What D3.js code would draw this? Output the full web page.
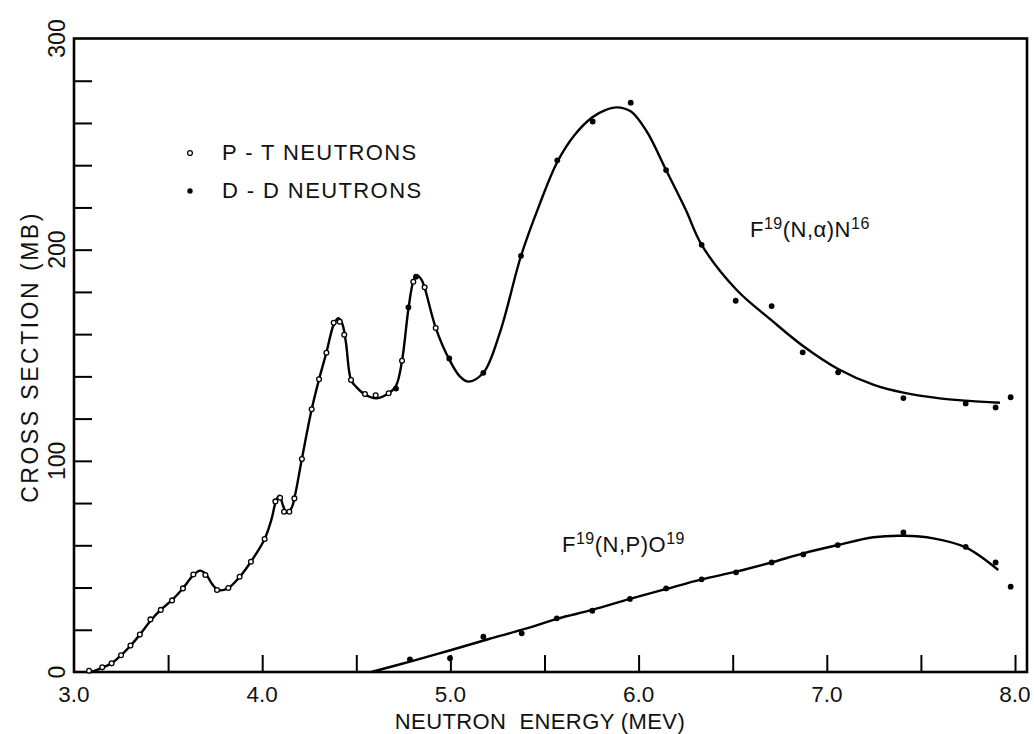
<!DOCTYPE html>
<html>
<head>
<meta charset="utf-8">
<script src="https://cdn.jsdelivr.net/npm/d3@7"></script>
<style>
  body { margin: 0; background: #fff; }
  text { font-family: "Liberation Sans", Arial, sans-serif; fill: #111; }
</style>
</head>
<body>
<svg id="chart" width="1034" height="734"></svg>
<script>
// open circles, p-t neutrons (MeV, mb)
const ptPoints = [
  [3.08, 0.6], [3.15, 2.2], [3.20, 4.1], [3.25, 7.9], [3.30, 12.5], [3.35, 17.7],
  [3.406, 24.9], [3.461, 29.4], [3.521, 33.9], [3.579, 39.6], [3.634, 46.2],
  [3.698, 45.9], [3.76, 38.8], [3.82, 39.8], [3.88, 45.1], [3.94, 52.2],
  [4.013, 63.0], [4.07, 80.8], [4.095, 82.5], [4.116, 75.9], [4.144, 75.9],
  [4.171, 82.2], [4.211, 100.9], [4.263, 124.4], [4.302, 138.6], [4.341, 151.2],
  [4.38, 165.4], [4.412, 165.9], [4.436, 159.7], [4.472, 138.3], [4.546, 131.6],
  [4.603, 131.0], [4.672, 132.0], [4.743, 147.4], [4.803, 184.8], [4.863, 182.2],
  [4.922, 162.9]
]

// filled dots, d-d neutrons, F19(n,alpha)N16
const ddAlphaPoints = [
  [4.711, 134.2], [4.777, 172.7], [4.817, 187.2], [4.994, 148.5], [5.175, 141.7],
  [5.375, 197.1], [5.568, 242.3], [5.756, 260.7], [5.958, 269.6], [6.146, 237.7],
  [6.335, 202.3], [6.516, 175.8], [6.707, 173.3], [6.872, 151.4], [7.06, 141.9],
  [7.407, 129.7], [7.738, 127.2], [7.897, 125.3], [7.977, 130.1]
]

// filled dots, d-d neutrons, F19(n,p)O19
const ddProtonPoints = [
  [4.785, 6.0], [4.998, 6.5], [5.175, 16.7], [5.379, 18.3], [5.565, 25.4],
  [5.754, 29.0], [5.954, 34.6], [6.146, 39.6], [6.335, 43.9], [6.518, 47.2],
  [6.707, 51.9], [6.875, 55.7], [7.058, 60.1], [7.407, 66.1], [7.738, 59.3],
  [7.897, 51.9], [7.977, 40.4]
]

// hand drawn curves
const alphaCurve = [
  [3.09, 0], [3.15, 2], [3.20, 4.2], [3.25, 7.9], [3.30, 12.4], [3.35, 17.7],
  [3.41, 24.6], [3.46, 29.4], [3.52, 34], [3.58, 39.8], [3.635, 46], [3.67, 48],
  [3.70, 46.5], [3.735, 41.5], [3.767, 38.8], [3.82, 39.8], [3.88, 45], [3.94, 52.2],
  [4.013, 63], [4.05, 72.5], [4.075, 81.5], [4.092, 83.5], [4.11, 79], [4.13, 75.4],
  [4.155, 77.5], [4.175, 84], [4.211, 101], [4.263, 124.4], [4.302, 138.6],
  [4.341, 151.2], [4.38, 164.5], [4.404, 167.5], [4.425, 165], [4.445, 156],
  [4.472, 138.3], [4.502, 134.8], [4.546, 131.4], [4.608, 129.6], [4.672, 132],
  [4.711, 135.5], [4.743, 147.4], [4.777, 172], [4.803, 185], [4.822, 187.8],
  [4.845, 186], [4.863, 182], [4.922, 163], [4.994, 148], [5.05, 140], [5.095, 137.5],
  [5.175, 141.7], [5.264, 161], [5.375, 197], [5.472, 221], [5.568, 241.5],
  [5.662, 254.5], [5.756, 262.8], [5.82, 266], [5.883, 267.4], [5.958, 265.5],
  [6.043, 256], [6.146, 237.7], [6.25, 219], [6.335, 202.3], [6.52, 181],
  [6.707, 166.5], [6.872, 154.5], [7.06, 143.5], [7.25, 136], [7.407, 132.3],
  [7.6, 129.6], [7.738, 128.5], [7.92, 127.5]
]

const protonCurve = [
  [4.58, 0], [4.80, 5.3], [5.00, 10.3], [5.20, 15.5], [5.40, 20.5], [5.57, 25.3],
  [5.754, 29.4], [5.954, 34.6], [6.146, 39.3], [6.335, 43.9], [6.518, 47.5],
  [6.707, 51.9], [6.875, 56.2], [7.058, 60.1], [7.247, 63.8], [7.407, 64.5],
  [7.566, 63.3], [7.738, 59.0], [7.911, 48.3]
]

const xTickValues = [3.5, 4.0, 4.5, 5.0, 5.5, 6.0, 6.5, 7.0, 7.5, 8.0]
const xTickLabels = ["3.0", "4.0", "5.0", "6.0", "7.0", "8.0"]
const yTickValues = d3.range(20, 300, 20)
const yTickLabels = ["0", "100", "200", "300"]

const svg = d3.select("#chart")

const x = d3.scaleLinear().domain([3, 8]).range([74, 1015])
const y = d3.scaleLinear().domain([0, 300]).range([672, 38.5])
const xRight = 1027

// frame
svg.append("rect")
  .attr("x", x(3)).attr("y", y(300))
  .attr("width", xRight - x(3)).attr("height", y(0) - y(300))
  .attr("fill", "none").attr("stroke", "#000").attr("stroke-width", 2.6)

// ticks pointing inward
svg.append("g")
  .attr("transform", `translate(0, ${y(0)})`)
  .call(d3.axisTop(x).tickValues(xTickValues).tickSize(17).tickFormat(""))
  .call(g => g.select(".domain").remove())
  .call(g => g.selectAll("line").attr("stroke", "#000").attr("stroke-width", 2))

svg.append("g")
  .attr("transform", `translate(${x(3)}, 0)`)
  .call(d3.axisRight(y).tickValues(yTickValues).tickSize(18).tickFormat(""))
  .call(g => g.select(".domain").remove())
  .call(g => g.selectAll("line").attr("stroke", "#000").attr("stroke-width", 2))

// tick labels
svg.append("g")
  .selectAll("text")
  .data(xTickLabels).enter()
  .append("text")
  .attr("x", d => x(+d))
  .attr("y", 702)
  .attr("text-anchor", "middle")
  .style("font-size", "22.5px")
  .text(d => d)

svg.append("g")
  .selectAll("text")
  .data(yTickLabels).enter()
  .append("text")
  .attr("transform", d => `translate(65, ${y(+d)}) rotate(-90)`)
  .attr("text-anchor", "middle")
  .style("font-size", "23px")
  .text(d => d)

// axis titles
svg.append("text")
  .attr("x", 540).attr("y", 729)
  .attr("text-anchor", "middle")
  .style("font-size", "22px")
  .style("letter-spacing", "0.4px")
  .style("white-space", "pre")
  .text("NEUTRON  ENERGY (MEV)")

svg.append("text")
  .attr("transform", "translate(38, 357) rotate(-90)")
  .attr("text-anchor", "middle")
  .style("font-size", "23px")
  .style("letter-spacing", "2.5px")
  .text("CROSS SECTION (MB)")

// curves
const line = d3.line()
  .x(d => x(d[0]))
  .y(d => y(d[1]))
  .curve(d3.curveCatmullRom.alpha(0.5))

svg.selectAll("path.curve")
  .data([alphaCurve, protonCurve]).enter()
  .append("path")
  .attr("class", "curve")
  .attr("d", line)
  .attr("fill", "none")
  .attr("stroke", "#000")
  .attr("stroke-width", 2.4)

// data points
svg.append("g")
  .selectAll("circle")
  .data(ptPoints).enter()
  .append("circle")
  .attr("cx", d => x(d[0]))
  .attr("cy", d => y(d[1]))
  .attr("r", 2.4)
  .attr("fill", "#fff")
  .attr("stroke", "#000")
  .attr("stroke-width", 1.3)

svg.append("g")
  .selectAll("circle")
  .data(ddAlphaPoints.concat(ddProtonPoints)).enter()
  .append("circle")
  .attr("cx", d => x(d[0]))
  .attr("cy", d => y(d[1]))
  .attr("r", 2.9)
  .attr("fill", "#000")

// legend
const legend = [
  {label: "P - T NEUTRONS", open: true, y: 153},
  {label: "D - D NEUTRONS", open: false, y: 191}
]
const items = svg.append("g").selectAll("g")
  .data(legend).enter()
  .append("g")
  .attr("transform", d => `translate(190, ${d.y})`)
items.append("circle")
  .attr("r", d => d.open ? 2.4 : 2.7)
  .attr("fill", d => d.open ? "#fff" : "#000")
  .attr("stroke", "#000")
  .attr("stroke-width", d => d.open ? 1.3 : 0)
items.append("text")
  .attr("x", 32).attr("y", 7)
  .style("font-size", "22px")
  .style("letter-spacing", "1.4px")
  .style("white-space", "pre")
  .text(d => d.label)

// reaction labels
function reaction(xp, yp, parts) {
  const t = svg.append("text")
    .attr("x", xp).attr("y", yp)
    .style("font-size", "22px")
    .style("letter-spacing", "0.5px")
  parts.forEach(p => {
    t.append("tspan")
      .attr("dy", p.sup ? -8 : (p.after ? 8 : 0))
      .style("font-size", p.sup ? "16px" : "22px")
      .text(p.s)
  })
}
reaction(750, 237, [
  {s: "F"}, {s: "19", sup: true}, {s: "(N,α)N", after: true}, {s: "16", sup: true}
])
reaction(562, 552, [
  {s: "F"}, {s: "19", sup: true}, {s: "(N,P)O", after: true}, {s: "19", sup: true}
])
</script>
</body>
</html>
